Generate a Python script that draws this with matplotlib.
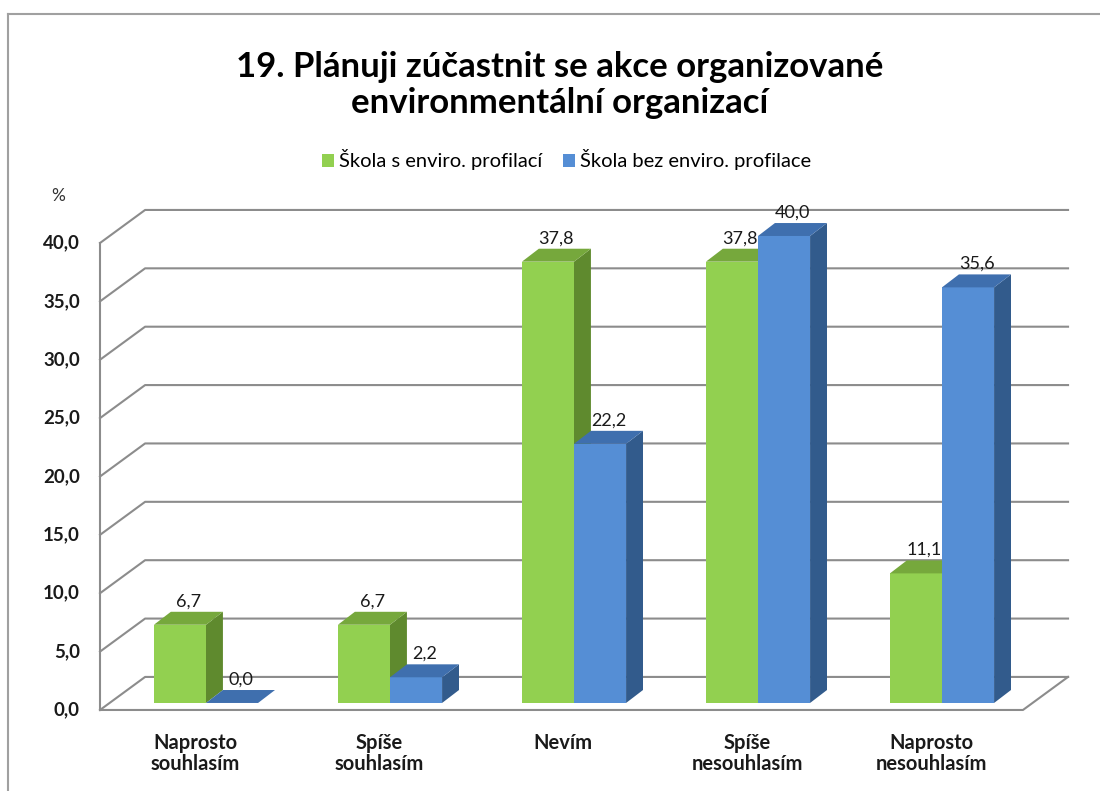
import matplotlib.pyplot as plt
from matplotlib.patches import Polygon, Patch

plt.rcParams['font.family'] = ['Lato', 'DejaVu Sans']

# data
categories = ['Naprosto\nsouhlasím', 'Spíše\nsouhlasím', 'Nevím',
              'Spíše\nnesouhlasím', 'Naprosto\nnesouhlasím']
enviro = [6.7, 6.7, 37.8, 37.8, 11.1]
bez_enviro = [0.0, 2.2, 22.2, 40.0, 35.6]
series_names = ['Škola s enviro. profilací', 'Škola bez enviro. profilace']
yticks = [0, 5, 10, 15, 20, 25, 30, 35, 40]

# colours: front, side, top
green = ('#92d050', '#5f8a2e', '#76a83c')
blue = ('#558ed5', '#325b8c', '#3f6fae')
grid_color = '#8c8c8c'

# 3D look (offsets in data units)
wall_dx, wall_dy = 0.245, 2.83
bar_w = 0.283
bar_dx, bar_dy = 0.092, 1.11
bar_base = 0.6
x_left, x_right = -0.576, 4.44

W, H = 1100, 791
fig = plt.figure(figsize=(W / 100, H / 100), dpi=100)
# axes placed so that category spacing is ~184px and 1 unit ~11.7px
ax = fig.add_axes([95.6 / W, (791 - 745) / H, 975.2 / W, 595.4 / H])
ax.set_xlim(-0.6, 4.7)
ax.set_ylim(-3, 48)
ax.axis('off')

# chart frame
fig.add_artist(plt.Line2D([8 / W, 8 / W], [0, 1 - 14 / H], color='#a0a0a0', lw=1.5))
fig.add_artist(plt.Line2D([8 / W, 1], [1 - 14 / H, 1 - 14 / H], color='#a0a0a0', lw=1.5))

# walls and gridlines
for v in yticks:
    ax.plot([x_left, x_left + wall_dx, x_right + wall_dx],
            [v, v + wall_dy, v + wall_dy], color=grid_color, lw=1.5, zorder=1)
    ax.text(x_left - 0.11, v, f'{v:.1f}'.replace('.', ','), ha='right', va='center',
            fontsize=13.5, fontweight='bold', color='#1a1a1a')
ax.plot([x_left, x_left], [0, yticks[-1]], color=grid_color, lw=1.5, zorder=1)
ax.plot([x_left, x_right, x_right + wall_dx], [0, 0, wall_dy],
        color=grid_color, lw=1.5, zorder=1)
ax.text(x_left - 0.23, 44.0, '%', ha='center', va='center', fontsize=12.5, color='#333333')


def draw_bar(x0, value, cols, z):
    front, side, top = cols
    y0, y1 = bar_base, bar_base + value
    x1 = x0 + bar_w
    ax.add_patch(Polygon([(x0, y0), (x1, y0), (x1, y1), (x0, y1)],
                         closed=True, fc=front, ec='none', zorder=z))
    ax.add_patch(Polygon([(x1, y0), (x1 + bar_dx, y0 + bar_dy),
                          (x1 + bar_dx, y1 + bar_dy), (x1, y1)],
                         closed=True, fc=side, ec='none', zorder=z))
    ax.add_patch(Polygon([(x0, y1), (x1, y1), (x1 + bar_dx, y1 + bar_dy),
                          (x0 + bar_dx, y1 + bar_dy)],
                         closed=True, fc=top, ec='none', zorder=z))
    ax.text(x0 + bar_w / 2 + bar_dx / 2, y1 + bar_dy + 0.2, f'{value:.1f}'.replace('.', ','),
            ha='center', va='bottom', fontsize=13, color='#1a1a1a', zorder=10)


z = 2
for i in range(len(categories)):
    draw_bar(i - bar_w, enviro[i], green, z)
    draw_bar(i, bez_enviro[i], blue, z + 1)
    z += 2
    ax.text(i - 0.06, -2.0, categories[i], ha='center', va='top', fontsize=14.5,
            fontweight='bold', color='#1a1a1a', linespacing=1.05)

fig.text(0.509, 1 - 85 / H, '19. Plánuji zúčastnit se akce organizované\nenvironmentální organizací',
         ha='center', va='center', fontsize=25, fontweight='bold', linespacing=1.15)

handles = [Patch(fc=green[0], ec='none'), Patch(fc=blue[0], ec='none')]
fig.legend(handles, series_names, loc='center', bbox_to_anchor=(0.515, 1 - 160 / H), ncol=2,
           frameon=False, fontsize=14.5, handlelength=0.6, handleheight=0.6,
           handletextpad=0.25, columnspacing=1.0)

fig.savefig('out.png', dpi=100)
